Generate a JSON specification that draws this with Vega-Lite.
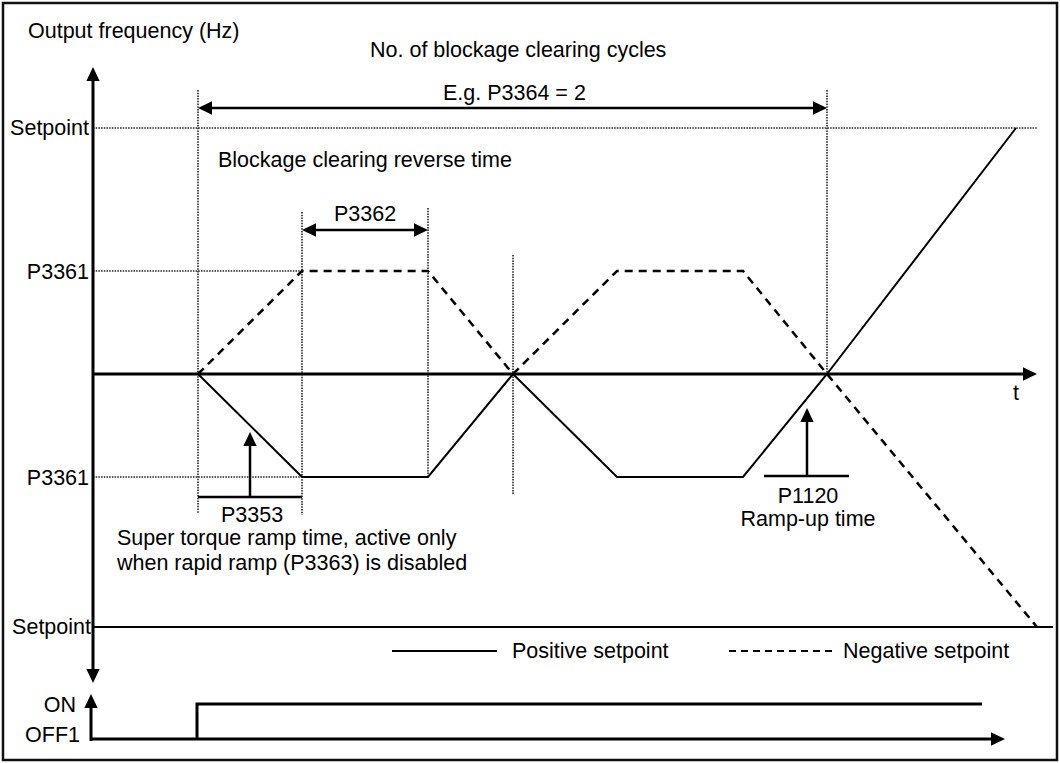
{
  "$schema": "https://vega.github.io/schema/vega-lite/v6.json",
  "width": 1060,
  "height": 763,
  "autosize": {"type": "fit", "contains": "padding"},
  "padding": 0,
  "background": "white",
  "config": {"view": {"stroke": null}},
  "datasets": {
    "border": [{"x": 3, "x2": 1057, "y": 3, "y2": 760}],
    "seg": [
      {"kind": "thick", "x": 93, "y": 74, "x2": 93, "y2": 676},
      {"kind": "thick", "x": 93, "y": 374, "x2": 1030, "y2": 374},
      {"kind": "thick", "x": 91, "y": 741, "x2": 91, "y2": 701},
      {"kind": "thick", "x": 91, "y": 739, "x2": 998, "y2": 739},
      {"kind": "med", "x": 205, "y": 108, "x2": 820, "y2": 108},
      {"kind": "med", "x": 309, "y": 230, "x2": 421, "y2": 230},
      {"kind": "med", "x": 198, "y": 497, "x2": 302, "y2": 497},
      {"kind": "med", "x": 250, "y": 497, "x2": 250, "y2": 439},
      {"kind": "med", "x": 764, "y": 476, "x2": 849, "y2": 476},
      {"kind": "med", "x": 807, "y": 476, "x2": 807, "y2": 415},
      {"kind": "thin", "x": 93, "y": 627, "x2": 1053, "y2": 627},
      {"kind": "legsolid", "x": 392, "y": 651, "x2": 497, "y2": 651},
      {"kind": "legdash", "x": 729, "y": 651, "x2": 832, "y2": 651},
      {"kind": "dot", "x": 93, "y": 128, "x2": 1038, "y2": 128},
      {"kind": "dot", "x": 93, "y": 271, "x2": 302, "y2": 271},
      {"kind": "dot", "x": 93, "y": 477, "x2": 302, "y2": 477},
      {"kind": "dot", "x": 198, "y": 90, "x2": 198, "y2": 514},
      {"kind": "dot", "x": 302, "y": 212, "x2": 302, "y2": 515},
      {"kind": "dot", "x": 428, "y": 208, "x2": 428, "y2": 477},
      {"kind": "dot", "x": 513, "y": 255, "x2": 513, "y2": 495},
      {"kind": "dot", "x": 827, "y": 90, "x2": 827, "y2": 374}
    ],
    "pos": [
      {"o": 1, "x": 198, "y": 374},
      {"o": 2, "x": 302, "y": 477},
      {"o": 3, "x": 428, "y": 477},
      {"o": 4, "x": 513, "y": 374},
      {"o": 5, "x": 617, "y": 477},
      {"o": 6, "x": 743, "y": 477},
      {"o": 7, "x": 827, "y": 374},
      {"o": 8, "x": 1016, "y": 128}
    ],
    "neg": [
      {"o": 1, "x": 198, "y": 374},
      {"o": 2, "x": 302, "y": 271},
      {"o": 3, "x": 428, "y": 271},
      {"o": 4, "x": 513, "y": 374},
      {"o": 5, "x": 617, "y": 271},
      {"o": 6, "x": 743, "y": 271},
      {"o": 7, "x": 827, "y": 374},
      {"o": 8, "x": 1037, "y": 627}
    ],
    "onoff": [
      {"o": 1, "x": 197, "y": 739},
      {"o": 2, "x": 197, "y": 704},
      {"o": 3, "x": 982, "y": 704}
    ],
    "tips": [
      {"x": 93, "y": 67, "a": 0},
      {"x": 93, "y": 683, "a": 180},
      {"x": 1037, "y": 374, "a": 90},
      {"x": 198, "y": 108, "a": 270},
      {"x": 827, "y": 108, "a": 90},
      {"x": 302, "y": 230, "a": 270},
      {"x": 428, "y": 230, "a": 90},
      {"x": 250, "y": 432, "a": 0},
      {"x": 807, "y": 408, "a": 0},
      {"x": 91, "y": 694, "a": 0},
      {"x": 1005, "y": 739, "a": 90}
    ],
    "tleft": [
      {"x": 28, "y": 38, "t": "Output frequency (Hz)"},
      {"x": 370, "y": 57, "t": "No. of blockage clearing cycles"},
      {"x": 443, "y": 100, "t": "E.g. P3364 = 2"},
      {"x": 218, "y": 167, "t": "Blockage clearing reverse time"},
      {"x": 1013, "y": 400, "t": "t"},
      {"x": 117, "y": 545, "t": "Super torque ramp time, active only"},
      {"x": 117, "y": 570, "t": "when rapid ramp (P3363) is disabled"},
      {"x": 512, "y": 658, "t": "Positive setpoint"},
      {"x": 843, "y": 658, "t": "Negative setpoint"}
    ],
    "tcenter": [
      {"x": 365, "y": 221, "t": "P3362"},
      {"x": 252, "y": 522, "t": "P3353"},
      {"x": 808, "y": 503, "t": "P1120"},
      {"x": 808, "y": 526, "t": "Ramp-up time"}
    ],
    "tright": [
      {"x": 89, "y": 135, "t": "Setpoint"},
      {"x": 89, "y": 279, "t": "P3361"},
      {"x": 89, "y": 485, "t": "P3361"},
      {"x": 91, "y": 634, "t": "Setpoint"},
      {"x": 76, "y": 712, "t": "ON"},
      {"x": 80, "y": 742, "t": "OFF1"}
    ]
  },
  "encoding": {
    "x": {"field": "x", "type": "quantitative", "scale": {"domain": [0, 1060], "nice": false, "zero": false}, "axis": null},
    "y": {"field": "y", "type": "quantitative", "scale": {"domain": [0, 763], "nice": false, "zero": false, "reverse": true}, "axis": null}
  },
  "layer": [
    {
      "data": {"name": "border"},
      "mark": {"type": "rect", "fill": null, "stroke": "#111", "strokeWidth": 2.5},
      "encoding": {"x2": {"field": "x2"}, "y2": {"field": "y2"}}
    },
    {
      "data": {"name": "seg"},
      "transform": [{"filter": "datum.kind === 'dot'"}],
      "mark": {"type": "rule", "stroke": "#222", "strokeWidth": 1.6, "strokeDash": [1.5, 1.2]},
      "encoding": {"x2": {"field": "x2"}, "y2": {"field": "y2"}}
    },
    {
      "data": {"name": "seg"},
      "transform": [{"filter": "datum.kind === 'thick'"}],
      "mark": {"type": "rule", "stroke": "black", "strokeWidth": 3},
      "encoding": {"x2": {"field": "x2"}, "y2": {"field": "y2"}}
    },
    {
      "data": {"name": "seg"},
      "transform": [{"filter": "datum.kind === 'med'"}],
      "mark": {"type": "rule", "stroke": "black", "strokeWidth": 2.5},
      "encoding": {"x2": {"field": "x2"}, "y2": {"field": "y2"}}
    },
    {
      "data": {"name": "seg"},
      "transform": [{"filter": "datum.kind === 'thin' || datum.kind === 'legsolid'"}],
      "mark": {"type": "rule", "stroke": "black", "strokeWidth": 2},
      "encoding": {"x2": {"field": "x2"}, "y2": {"field": "y2"}}
    },
    {
      "data": {"name": "seg"},
      "transform": [{"filter": "datum.kind === 'legdash'"}],
      "mark": {"type": "rule", "stroke": "black", "strokeWidth": 2, "strokeDash": [7, 5]},
      "encoding": {"x2": {"field": "x2"}, "y2": {"field": "y2"}}
    },
    {
      "data": {"name": "pos"},
      "mark": {"type": "line", "stroke": "black", "strokeWidth": 2},
      "encoding": {"order": {"field": "o", "type": "quantitative"}}
    },
    {
      "data": {"name": "neg"},
      "mark": {"type": "line", "stroke": "black", "strokeWidth": 2.5, "strokeDash": [8, 6]},
      "encoding": {"order": {"field": "o", "type": "quantitative"}}
    },
    {
      "data": {"name": "onoff"},
      "mark": {"type": "line", "stroke": "black", "strokeWidth": 3, "strokeJoin": "miter"},
      "encoding": {"order": {"field": "o", "type": "quantitative"}}
    },
    {
      "data": {"name": "tips"},
      "mark": {"type": "point", "shape": "M0,0L0.95,2L-0.95,2Z", "filled": true, "color": "black", "opacity": 1, "size": 196},
      "encoding": {"angle": {"field": "a", "type": "quantitative", "scale": null}}
    },
    {
      "data": {"name": "tleft"},
      "mark": {"type": "text", "align": "left", "baseline": "alphabetic", "font": "Liberation Sans", "fontSize": 21.5, "color": "black"},
      "encoding": {"text": {"field": "t"}}
    },
    {
      "data": {"name": "tcenter"},
      "mark": {"type": "text", "align": "center", "baseline": "alphabetic", "font": "Liberation Sans", "fontSize": 21.5, "color": "black"},
      "encoding": {"text": {"field": "t"}}
    },
    {
      "data": {"name": "tright"},
      "mark": {"type": "text", "align": "right", "baseline": "alphabetic", "font": "Liberation Sans", "fontSize": 21.5, "color": "black"},
      "encoding": {"text": {"field": "t"}}
    }
  ]
}
